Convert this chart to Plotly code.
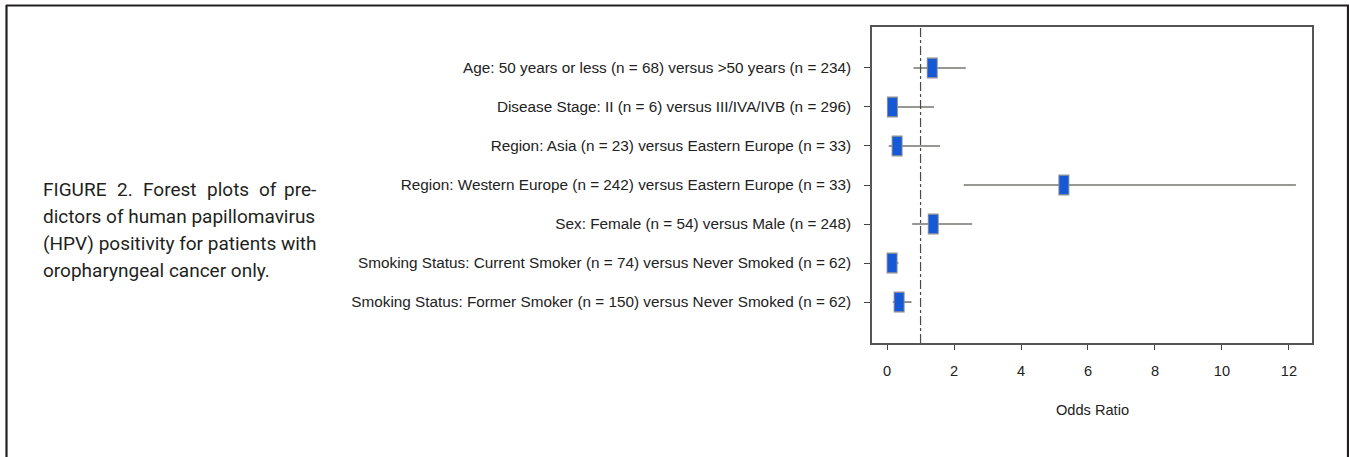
import plotly.graph_objects as go

# ---- data ----
labels = [
    "Age: 50 years or less (n = 68) versus >50 years (n = 234)",
    "Disease Stage: II (n = 6) versus III/IVA/IVB (n = 296)",
    "Region: Asia (n = 23) versus Eastern Europe (n = 33)",
    "Region: Western Europe (n = 242) versus Eastern Europe (n = 33)",
    "Sex: Female (n = 54) versus Male (n = 248)",
    "Smoking Status: Current Smoker (n = 74) versus Never Smoked (n = 62)",
    "Smoking Status: Former Smoker (n = 150) versus Never Smoked (n = 62)",
]
odds_ratio = [1.35, 0.16, 0.30, 5.28, 1.38, 0.15, 0.36]
ci_low = [0.79, 0.03, 0.05, 2.29, 0.75, 0.05, 0.17]
ci_high = [2.35, 1.40, 1.58, 12.21, 2.54, 0.34, 0.73]
x_ticks = [0, 2, 4, 6, 8, 10, 12]
reference_or = 1
caption_first_words = ["FIGURE", "2.", "Forest", "plots", "of", "pre-"]
caption_lines = [
    "dictors of human papillomavirus",
    "(HPV) positivity for patients with",
    "oropharyngeal cancer only.",
]

n = len(labels)
ypos = list(range(n, 0, -1))

W, H = 1349, 457
L, R, T, B = 872, 37, 27, 114
pw, ph = W - L - R, H - T - B


def px_to_paper_x(px):
    return (px - L) / pw


def px_to_paper_y(py):
    return (H - B - py) / ph


fig = go.Figure()

# whiskers via error bars
fig.add_trace(go.Scatter(
    x=odds_ratio, y=ypos, mode="markers",
    marker=dict(size=1, color="rgba(0,0,0,0)"),
    error_x=dict(type="data", symmetric=False,
                 array=[h - o for h, o in zip(ci_high, odds_ratio)],
                 arrayminus=[o - l for l, o in zip(ci_low, odds_ratio)],
                 width=0, thickness=1.6, color="#76766e"),
    hoverinfo="skip", showlegend=False,
))
# box outline
fig.add_trace(go.Scatter(
    x=odds_ratio, y=ypos, mode="markers",
    marker=dict(symbol="line-ns", size=15, color="#8a8f9a",
                line=dict(width=11, color="#8a8f9a")),
    hoverinfo="skip", showlegend=False,
))
# blue boxes
fig.add_trace(go.Scatter(
    x=odds_ratio, y=ypos, mode="markers",
    marker=dict(symbol="line-ns", size=13, color="#1559d6",
                line=dict(width=9, color="#1559d6")),
    showlegend=False,
))

# reference line
fig.add_shape(type="line", xref="x", yref="paper", x0=reference_or, x1=reference_or,
              y0=0, y1=1, line=dict(color="#4a4a4a", width=1.2, dash="dashdot"))

ylab_font = dict(family="Liberation Sans, Arial, Helvetica, sans-serif", size=15.3, color="#222")
x_font = dict(family="Liberation Sans, Arial, Helvetica, sans-serif", size=14.6, color="#222")

fig.update_xaxes(range=[-0.45, 12.69], tickvals=x_ticks, ticks="outside", ticklen=5,
                 tickwidth=1.2, tickcolor="#444", showline=True, linecolor="#555",
                 linewidth=1.5, mirror=True, showgrid=False, zeroline=False,
                 tickfont=x_font, ticklabelstandoff=9)
fig.update_yaxes(range=[-0.05, 8.05], tickvals=ypos, ticktext=labels, ticks="outside",
                 ticklen=6, tickwidth=1.2, tickcolor="#444", showline=True,
                 linecolor="#555", linewidth=1.5, mirror=True, showgrid=False,
                 zeroline=False, tickfont=ylab_font, ticklabelstandoff=10)

# axis title
fig.add_annotation(text="Odds Ratio", xref="paper", yref="paper", x=0.5,
                   y=px_to_paper_y(410), xanchor="center", yanchor="middle",
                   showarrow=False, font=x_font)

# caption (first line justified word by word)
cap_font = dict(family="Roboto, Liberation Sans, sans-serif", size=19, color="#231f20")
first_word_x = [41, 115, 141, 205, 257, 318]
for i, (word, px) in enumerate(zip(caption_first_words, first_word_x)):
    last = i == len(caption_first_words) - 1
    fig.add_annotation(text=word, xref="paper", yref="paper", x=px_to_paper_x(px),
                       y=px_to_paper_y(189), xanchor="right" if last else "left",
                       yanchor="middle", showarrow=False, font=cap_font)
for line, py in zip(caption_lines, [216, 243, 270]):
    fig.add_annotation(text=line, xref="paper", yref="paper", x=px_to_paper_x(41),
                       y=px_to_paper_y(py), xanchor="left", yanchor="middle",
                       showarrow=False, font=cap_font)

# outer frame
frame = dict(color="#231f20", width=2.2)
fig.add_shape(type="line", xref="paper", yref="paper", x0=px_to_paper_x(6), x1=px_to_paper_x(1349),
              y0=px_to_paper_y(5.5), y1=px_to_paper_y(5.5), line=frame)
fig.add_shape(type="line", xref="paper", yref="paper", x0=px_to_paper_x(6.5), x1=px_to_paper_x(6.5),
              y0=px_to_paper_y(5), y1=px_to_paper_y(457), line=frame)
fig.add_shape(type="line", xref="paper", yref="paper", x0=px_to_paper_x(1348), x1=px_to_paper_x(1348),
              y0=px_to_paper_y(5), y1=px_to_paper_y(457), line=frame)

fig.update_layout(width=W, height=H, margin=dict(l=L, r=R, t=T, b=B),
                  paper_bgcolor="white", plot_bgcolor="white")

fig.write_html("out.html", config={"displayModeBar": False},
               post_script="document.body.style.margin='0';")
